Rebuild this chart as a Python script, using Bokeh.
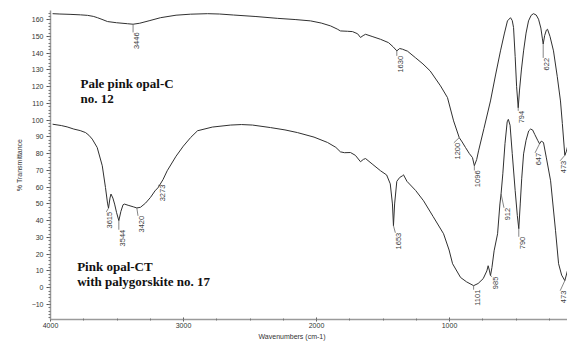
import numpy as np
from bokeh.plotting import figure
from bokeh.models import Range1d, LinearAxis, SingleIntervalTicker, Title
from bokeh.core.properties import value
from bokeh.embed import file_html
from bokeh.resources import INLINE

# --- IR spectrum of pale pink opal-C, no. 12 (wavenumber cm-1, %T) ---
wn_opal_c = [4000, 3950, 3880, 3808, 3760, 3720, 3691, 3660, 3622, 3560, 3484, 3446,
             3400, 3330, 3257, 3150, 3050, 2933, 2850, 2754, 2600, 2450, 2330, 2224,
             2150, 2086, 2040, 2018, 1970, 1935, 1900, 1880, 1862, 1845, 1800, 1742,
             1687, 1655, 1630, 1610, 1591, 1556, 1500, 1450, 1400, 1329, 1281, 1239,
             1200, 1180, 1157, 1130, 1109, 1096, 1080, 1067, 1030, 985, 950, 916,
             890, 868, 847, 835, 826, 815, 805, 794, 785, 772, 757, 740, 723, 705,
             689, 670, 654, 638, 628, 622, 612, 600, 592, 575, 551, 525, 503, 490,
             473, 462, 455]
tr_opal_c = [163.6, 163.4, 163.2, 162.9, 162.6, 162.0, 161.2, 160.2, 158.9, 158.2, 157.6, 157.3,
             157.9, 159.5, 161.2, 162.7, 163.3, 163.6, 163.4, 162.8, 161.9, 160.8, 160.1, 159.3,
             158.0, 156.3, 154.4, 153.3, 153.1, 152.9, 151.6, 149.4, 150.5, 151.3, 150.0, 148.3,
             146.3, 143.8, 141.4, 142.8, 142.4, 141.2, 137.2, 133.6, 129.4, 120.5, 113.5, 99.6,
             89.6, 87.0, 83.7, 80.0, 77.7, 72.8, 76.5, 81.7, 95.0, 111.5, 127.0, 141.4,
             151.5, 159.3, 161.2, 159.5, 155.3, 138.0, 120.0, 107.4, 118.0, 130.0, 141.4, 152.0, 159.3, 162.6,
             163.6, 162.8, 160.3, 155.0, 149.0, 145.5, 150.5, 153.8, 154.3, 150.0, 141.4, 126.0, 111.5, 98.0,
             79.0, 81.5, 84.0]

# --- IR spectrum of pink opal-CT with palygorskite, no. 17 ---
wn_opal_ct = [4000, 3940, 3900, 3854, 3810, 3773, 3750, 3727, 3693, 3658, 3636, 3622,
              3615, 3605, 3598, 3585, 3573, 3560, 3544, 3530, 3515, 3505, 3480, 3445,
              3420, 3395, 3360, 3326, 3295, 3273, 3240, 3211, 3150, 3100, 3049, 3002,
              2900, 2774, 2700, 2624, 2500, 2400, 2314, 2200, 2107, 2050, 2018, 1990,
              1949, 1915, 1880, 1860, 1845, 1800, 1742, 1700, 1675, 1660, 1653, 1645,
              1630, 1610, 1591, 1584, 1560, 1500, 1446, 1380, 1308, 1270, 1246, 1191,
              1150, 1101, 1070, 1035, 1010, 1001, 993, 985, 975, 960, 936, 920,
              912, 900, 885, 870, 862, 850, 835, 815, 800, 790, 780, 770,
              757, 740, 722, 709, 695, 680, 660, 647, 635, 620, 600, 571,
              537, 516, 495, 473, 455]
tr_opal_ct = [97.6, 96.8, 96.0, 94.7, 93.8, 92.6, 91.0, 88.7, 83.7, 72.8, 59.8, 50.5,
              47.5, 53.5, 55.9, 53.5, 49.9, 45.0, 40.0, 45.5, 49.5, 49.9, 49.2, 48.3,
              47.6, 48.0, 50.5, 53.9, 57.8, 59.8, 64.5, 69.8, 78.5, 84.5, 89.7, 93.7,
              95.9, 97.1, 97.4, 97.1, 95.6, 94.2, 92.6, 89.9, 86.7, 83.8, 81.1, 80.6,
              80.7, 79.0, 75.2, 76.6, 77.1, 73.9, 69.8, 67.3, 62.0, 50.0, 37.0, 50.0,
              63.5, 65.8, 66.8, 67.4, 63.5, 58.0, 51.9, 42.5, 32.2, 22.5, 14.3, 6.1,
              3.5, 1.2, 2.5, 5.4, 10.0, 13.1, 10.5, 7.2, 12.0, 22.0, 32.2, 50.0,
              56.0, 68.0, 86.0, 99.0, 100.5, 97.0, 80.0, 58.0, 43.0, 35.2, 50.0, 65.0,
              79.9, 88.0, 93.6, 94.7, 94.2, 91.5, 88.0, 85.9, 87.5, 86.7, 77.5, 63.8,
              34.0, 14.3, 7.5, 4.2, 10.1]

# band labels: band position, wavenumber where the leader ends, %T at top of the label
bands_c = [3446, 1630, 1200, 1096, 794, 622, 473]
bands_c_leader_end = [3446, 1630, 1237, 1096, 794, 622, 505]
bands_c_label_top = [152.4, 138.4, 86.5, 70.0, 105.6, 137.2, 75.8]

bands_ct = [3615, 3544, 3420, 3273, 1653, 1101, 985, 912, 790, 647, 473]
bands_ct_leader_end = [3630, 3544, 3412, 3267, 1640, 1101, 974, 892, 790, 678, 505]
bands_ct_label_top = [45.3, 34.6, 42.9, 61.5, 32.8, -1.2, 6.6, 47.7, 30.4, 80.5, -1.8]

x_ticks = [4000, 3000, 2000, 1000]

TICK_FONT = "Liberation Sans"
INK = "#303030"

p = figure(width=567, height=345, output_backend="svg", toolbar_location=None,
           x_range=Range1d(4014.5, 454.6), y_range=Range1d(-19, 165.5),
           x_axis_type=None, min_border_left=50, min_border_right=0,
           min_border_top=10, min_border_bottom=26)
p.outline_line_color = None
p.xgrid.visible = False
p.ygrid.visible = False
p.background_fill_color = "white"
p.border_fill_color = "white"

# bottom axis drawn on its own wavenumber scale
p.extra_x_ranges = {"axis": Range1d(4000, 4000 - 517 * 3000 / 399)}
xaxis = LinearAxis(x_range_name="axis",
                   ticker=SingleIntervalTicker(interval=1000, num_minor_ticks=4))
xaxis.ticker.desired_num_ticks = len(x_ticks)
xaxis.major_label_overrides = {t: str(t) for t in x_ticks}
p.add_layout(xaxis, "below")

yaxis = p.yaxis[0]
yaxis.ticker = SingleIntervalTicker(interval=10, num_minor_ticks=5)
yaxis.axis_label = "% Transmittance"

for ax in (xaxis, yaxis):
    ax.axis_line_color = "#9a9a9a"
    ax.axis_line_width = 1.5
    ax.major_tick_line_color = "#555555"
    ax.minor_tick_line_color = "#777777"
    ax.major_label_text_font = TICK_FONT
    ax.major_label_text_font_size = "7px"
    ax.major_label_text_color = "#333333"
    ax.axis_label_text_font = TICK_FONT
    ax.axis_label_text_font_size = "7px"
    ax.axis_label_text_font_style = "normal"
    ax.axis_label_text_color = "#333333"

xaxis.major_tick_in = 2
xaxis.major_tick_out = 2
xaxis.minor_tick_in = 1
xaxis.minor_tick_out = 1
xaxis.major_label_standoff = 1
yaxis.major_tick_in = 0
yaxis.major_tick_out = 4
yaxis.minor_tick_in = 0
yaxis.minor_tick_out = 2
yaxis.major_label_standoff = 3
yaxis.axis_label_standoff = 6

p.add_layout(Title(text="Wavenumbers (cm-1)", align="left", offset=208, standoff=0,
                   text_font=TICK_FONT, text_font_size="7px", text_font_style="normal",
                   text_color="#333333"), "below")

# spectra
p.line(wn_opal_c, tr_opal_c, line_color=INK, line_width=1)
p.line(wn_opal_ct, tr_opal_ct, line_color=INK, line_width=1)


def band_labels(bands, leader_end, label_top, wn, tr):
    wn_asc = np.asarray(wn, dtype=float)[::-1]
    tr_asc = np.asarray(tr, dtype=float)[::-1]
    y0 = np.interp(bands, wn_asc, tr_asc)
    p.segment(x0=bands, y0=y0, x1=leader_end, y1=label_top,
              line_color="#666666", line_width=0.8)
    # text sits just right of the leader end (about 3.5 px)
    tx = [w - 24 for w in leader_end]
    p.text(x=tx, y=label_top, text=[str(b) for b in bands], angle=np.pi / 2,
           text_align="right", text_baseline="middle",
           text_font=value(TICK_FONT), text_font_size="7.5px", text_color="#404040")


band_labels(bands_c, bands_c_leader_end, bands_c_label_top, wn_opal_c, tr_opal_c)
band_labels(bands_ct, bands_ct_leader_end, bands_ct_label_top, wn_opal_ct, tr_opal_ct)

# sample names
NAME_STYLE = dict(text_font=value("Liberation Serif"), text_font_style="bold",
                  text_font_size="13px", text_color="#111111",
                  text_align="left", text_baseline="alphabetic")
p.text(x=[3808, 3808], y=[121.9, 113.0], text=["Pale pink opal-C", "no. 12"], **NAME_STYLE)
p.text(x=[3831, 3831], y=[12.6, 3.7], text=["Pink opal-CT", "with palygorskite no. 17"], **NAME_STYLE)

open("out.html", "w").write(file_html(p, INLINE))
